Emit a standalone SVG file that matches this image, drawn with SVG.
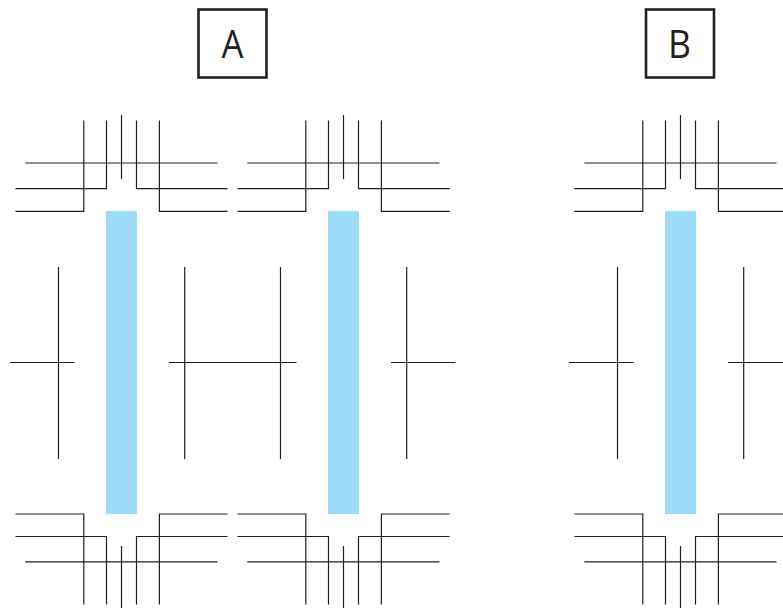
<svg xmlns="http://www.w3.org/2000/svg" xmlns:xlink="http://www.w3.org/1999/xlink" width="783" height="608" viewBox="0 0 783 608">
<style>
.l{fill:none;stroke:#231f20;stroke-width:1.2}
.bar{fill:#9cdcf9}
.box{fill:#fff;stroke:#231f20;stroke-width:2.6}
.t{font-family:"Open Sans","Noto Sans","Liberation Sans",sans-serif;font-size:39px;fill:#231f20;text-anchor:middle}
</style>
<defs>
<g id="unit">
<rect class="bar" x="106" y="211" width="31" height="303"/>
<path class="l" d="M83.800 120.500V211.400H15.500M106.500 120.500V188.700H15.500M121.500 115V179M136.500 120.500V188.700H227.500M159.400 120.500V211.400H227.500M25.300 163H217.500"/>
<path class="l" d="M83.800 604.500V514H15.500M106.500 604.500V536.500H15.500M121.500 546V608M136.500 604.500V536.500H227.500M159.400 604.500V514H227.500M25.300 561.800H217.500"/>
<path class="l" d="M58.500 267V459M10 362.500H74.500M184.700 267V459M169 362.500H233.500"/>
</g>
</defs>
<g id="label-a">
<rect class="box" x="198.500" y="9.500" width="68" height="68"/>
<text class="t" x="232.500" y="57.500" textLength="22" lengthAdjust="spacingAndGlyphs">A</text>
</g>
<g id="label-b">
<rect class="box" x="646" y="9.500" width="68" height="68"/>
<text class="t" x="679.500" y="57.500" textLength="23" lengthAdjust="spacingAndGlyphs">B</text>
</g>
<g id="a-left"><use href="#unit" xlink:href="#unit"/></g>
<g id="a-right"><use href="#unit" xlink:href="#unit" x="222"/></g>
<g id="b"><use href="#unit" xlink:href="#unit" x="559"/></g>
</svg>
